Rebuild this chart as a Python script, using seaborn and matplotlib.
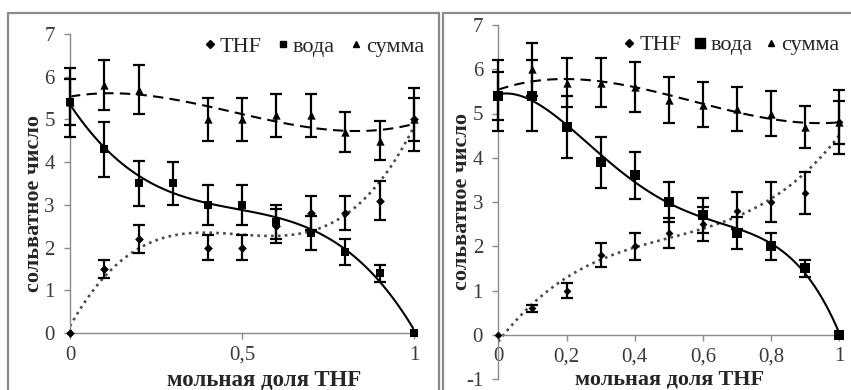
import numpy as np
import pandas as pd
import matplotlib
matplotlib.use("Agg")
import matplotlib.pyplot as plt
import seaborn as sns
from matplotlib.patches import Rectangle
from matplotlib.lines import Line2D

# ---------------- data ----------------
x_vals = [0.0, 0.1, 0.2, 0.3, 0.4, 0.5, 0.6, 0.7, 0.8, 0.9, 1.0]
nan = np.nan

# left panel
thf_left = [0.0, 1.5, 2.2, nan, 2.0, 2.0, 2.5, 2.8, 2.8, 3.1, 5.0]
thf_left_err = [0.0, 0.22, 0.33, nan, 0.29, 0.29, 0.4, 0.4, 0.4, 0.45, 0.5]
voda_left = [5.4, 4.3, 3.5, 3.5, 3.0, 3.0, 2.6, 2.35, 1.9, 1.4, 0.0]
voda_left_err = [0.54, 0.64, 0.52, 0.5, 0.46, 0.46, 0.4, 0.4, 0.3, 0.2, 0.0]
summa_left = [5.4, 5.8, 5.7, nan, 5.0, 5.0, 5.1, 5.1, 4.7, 4.5, 5.0]
summa_left_err = [0.8, 0.58, 0.58, nan, 0.5, 0.5, 0.5, 0.5, 0.47, 0.46, 0.73]

# right panel
thf_right = [0.0, 0.6, 1.0, 1.8, 2.0, 2.3, 2.5, 2.8, 3.0, 3.2, 4.8]
thf_right_err = [0.0, 0.08, 0.17, 0.27, 0.3, 0.33, 0.39, 0.42, 0.45, 0.48, 0.48]
voda_right = [5.4, 5.4, 4.7, 3.9, 3.6, 3.0, 2.7, 2.3, 2.0, 1.5, 0.0]
voda_right_err = [0.54, 0.8, 0.7, 0.58, 0.53, 0.45, 0.4, 0.36, 0.3, 0.2, 0.0]
summa_right = [5.4, 6.0, 5.7, 5.7, 5.6, 5.3, 5.2, 5.1, 5.0, 4.7, 4.8]
summa_right_err = [0.8, 0.6, 0.55, 0.56, 0.56, 0.52, 0.51, 0.5, 0.51, 0.48, 0.72]

series_names = ["THF", "вода", "сумма"]
left_xticks = [0, 0.5, 1]
left_xticklabels = ["0", "0,5", "1"]
right_xticks = [0, 0.2, 0.4, 0.6, 0.8, 1]
right_xticklabels = ["0", "0,2", "0,4", "0,6", "0,8", "1"]
left_yticks = [0, 1, 2, 3, 4, 5, 6, 7]
right_yticks = [-1, 0, 1, 2, 3, 4, 5, 6, 7]
xlabel_text = "мольная доля THF"
ylabel_text = "сольватное число"

# ---------------- style ----------------
sns.set_style("ticks")
plt.rcParams['font.family'] = ['Liberation Serif', 'DejaVu Serif']

W, H = 851, 390
fig = plt.figure(figsize=(W / 100, H / 100), dpi=100)
fig.patch.set_facecolor("white")

ax_l = fig.add_axes([70 / W, (H - 333) / H, 344 / W, 299 / H])
ax_r = fig.add_axes([498.3 / W, (H - 379) / H, 341 / W, 354 / H])

GRAY = "#8a8a8a"


def build_df(y, err):
    df = pd.DataFrame({"x": x_vals, "y": y, "err": err})
    return df.dropna()


def draw_panel(ax, datasets, styles, order_z):
    for name in order_z:
        df = datasets[name]
        st = styles[name]
        sns.regplot(data=df, x="x", y="y", order=st["deg"], ci=None,
                    scatter=False, truncate=True, ax=ax,
                    line_kws=dict(color=st["lcolor"], lw=st["lw"],
                                  ls=st["ls"], zorder=2))
    for zi, name in enumerate(order_z):
        df = datasets[name]
        st = styles[name]
        e = df[df["err"] > 0]
        cont = ax.errorbar(e["x"], e["y"], yerr=e["err"], fmt="none",
                           ecolor="black", elinewidth=1.6, capsize=4.6,
                           capthick=1.6, zorder=3 + zi)
        for art in cont.lines[1]:
            art.set_clip_on(False)
        for art in cont.lines[2]:
            art.set_clip_on(False)
        sns.scatterplot(data=df, x="x", y="y", marker=st["marker"],
                        s=st["s"], color="black", edgecolor="black",
                        linewidth=0, ax=ax, zorder=10 + zi, legend=False,
                        clip_on=False)


left_data = {
    "THF": build_df(thf_left, thf_left_err),
    "вода": build_df(voda_left, voda_left_err),
    "сумма": build_df(summa_left, summa_left_err),
}
right_data = {
    "THF": build_df(thf_right, thf_right_err),
    "вода": build_df(voda_right, voda_right_err),
    "сумма": build_df(summa_right, summa_right_err),
}

left_styles = {
    "THF": dict(marker="D", s=20, deg=3, lcolor="#4a4a4a", lw=1.9, ls=(0, (1, 1.6))),
    "вода": dict(marker="s", s=30, deg=3, lcolor="black", lw=1.5, ls="-"),
    "сумма": dict(marker="^", s=36, deg=3, lcolor="black", lw=1.5, ls=(0, (5, 3))),
}
right_styles = {
    "THF": dict(marker="D", s=16, deg=3, lcolor="#4a4a4a", lw=1.9, ls=(0, (1, 1.6))),
    "вода": dict(marker="s", s=55, deg=4, lcolor="black", lw=1.5, ls="-"),
    "сумма": dict(marker="^", s=36, deg=3, lcolor="black", lw=1.5, ls=(0, (5, 3))),
}

draw_panel(ax_l, left_data, left_styles, ["сумма", "вода", "THF"])
draw_panel(ax_r, right_data, right_styles, ["THF", "сумма", "вода"])

for ax, xt, xtl, yt, ylim in [
    (ax_l, left_xticks, left_xticklabels, left_yticks, (0, 7)),
    (ax_r, right_xticks, right_xticklabels, right_yticks, (-1, 7)),
]:
    ax.set_xlim(0, 1)
    ax.set_ylim(*ylim)
    ax.set_xticks(xt)
    ax.set_xticklabels(xtl)
    ax.set_yticks(yt)
    ax.set_yticklabels([str(v) for v in yt])
    ax.set_xlabel("")
    ax.set_ylabel("")
    ax.patch.set_alpha(0)
    for sp in ["top", "right"]:
        ax.spines[sp].set_visible(False)
    for sp in ["left", "bottom"]:
        ax.spines[sp].set_color(GRAY)
        ax.spines[sp].set_linewidth(1.0)
    ax.spines["bottom"].set_position(("data", 0))
    ax.tick_params(axis="both", direction="out", length=4, width=1.0,
                   color=GRAY, labelsize=15, labelcolor="#3a3a3a")
    ax.tick_params(axis="y", pad=7)
    ax.tick_params(axis="x", pad=5)

# legends
def make_handles(sizes):
    return [
        Line2D([], [], marker="D", ls="none", color="black", markersize=sizes[0]),
        Line2D([], [], marker="s", ls="none", color="black", markersize=sizes[1]),
        Line2D([], [], marker="^", ls="none", color="black", markersize=sizes[2]),
    ]

ax_l.legend(make_handles([4, 5, 5]), series_names, loc="center left",
            bbox_to_anchor=(0.3875, 0.957), ncol=3, frameon=False,
            fontsize=16, handlelength=0.6, handletextpad=0.15,
            columnspacing=0.65, borderpad=0, borderaxespad=0)
ax_r.legend(make_handles([4, 7, 5]), series_names, loc="center left",
            bbox_to_anchor=(0.365, 0.943), ncol=3, frameon=False,
            fontsize=16, handlelength=0.6, handletextpad=0.15,
            columnspacing=0.55, borderpad=0, borderaxespad=0)

# axis titles
fig.text(264 / W, 1 - 380 / H, xlabel_text, ha="center", va="center",
         fontsize=16.5, fontweight="bold")
fig.text(670 / W, 1 - 380 / H, xlabel_text, ha="center", va="center",
         fontsize=16, fontweight="bold")
fig.text(34 / W, 1 - 203 / H, ylabel_text, ha="center", va="center",
         rotation=90, fontsize=16, fontweight="bold")
fig.text(462 / W, 1 - 202 / H, ylabel_text, ha="center", va="center",
         rotation=90, fontsize=16, fontweight="bold")

# chart-area frames
fig.add_artist(Rectangle((8 / W, -0.1), (439.5 - 8) / W, 1.1 - 13 / H,
                         transform=fig.transFigure, fill=False,
                         edgecolor=GRAY, lw=1.6, zorder=0))
fig.add_artist(Rectangle((442.5 / W, -0.1), 0.6, 1.1 - 13 / H,
                         transform=fig.transFigure, fill=False,
                         edgecolor=GRAY, lw=1.6, zorder=0))

fig.savefig("out.png", dpi=100, facecolor="white")
